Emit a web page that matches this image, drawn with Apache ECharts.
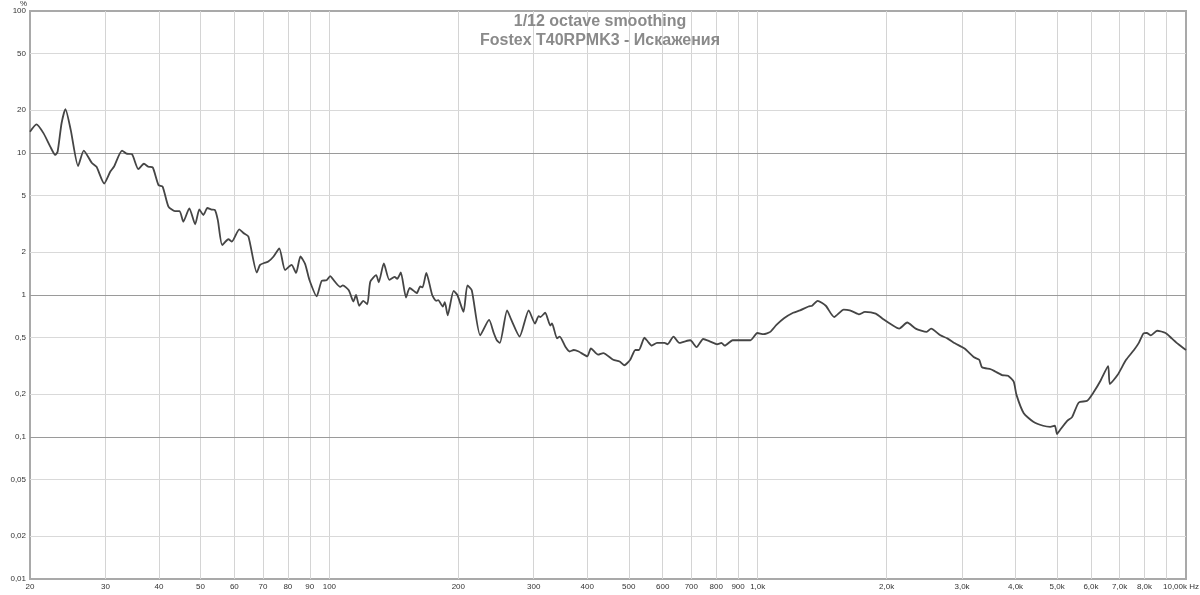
<!DOCTYPE html>
<html>
<head>
<meta charset="utf-8">
<script src="https://cdn.jsdelivr.net/npm/echarts@6/dist/echarts.min.js"></script>
<style>
    html, body { margin: 0; padding: 0; background: #fff; }
    #chart { width: 1200px; height: 595px; }
</style>
</head>
<body>
<div id="chart"></div>
<script>
    // частота, Гц
    const freqHz = [
        20, 20.7, 21.5, 22.3, 22.9, 23.2, 23.7, 24.2, 24.9, 25.9, 26.7, 27.9, 28.6, 29.8, 30.8, 31.4,
        32.8, 33.6, 34.6, 35.8, 36.9, 37.8, 38.7, 39.9, 40.8, 42.1, 43.6, 44.7, 45.6, 47.1, 48.6, 49.7,
        50.8, 51.9, 53.1, 54.0, 54.9, 56.2, 58.1, 59.2, 61.6, 63.0, 64.7, 67.7, 68.9, 70.8, 72, 74,
        76.4, 78.8, 81.6, 83.6, 85.6, 87.8, 89.8, 93.4, 96, 98.5, 100.4, 103, 106, 107.5, 111, 113.8,
        115.4, 117.4, 120, 122.6, 124.6, 128.6, 130.4, 134, 138, 142, 144, 146.8, 151, 154, 158.6, 160,
        163, 165, 168.4, 173.8, 177.6, 179.5, 184, 186, 188.9, 195, 199, 205.7, 210, 215, 225, 236,
        242, 246, 250, 260, 266, 278, 292, 302, 308, 311, 319, 328, 331, 340, 345, 356,
        364, 372, 382, 400, 408, 424, 436, 460, 476, 488, 504, 518, 528, 544, 554, 566,
        582, 606, 616, 636, 656, 674, 696, 720, 746, 775, 804, 823, 838, 874, 900, 962,
        998, 1032, 1070, 1106, 1152, 1210, 1256, 1314, 1340, 1380, 1442, 1508, 1588, 1640, 1706, 1722,
        1780, 1886, 1966, 2052, 2140, 2234, 2338, 2480, 2540, 2670, 2772, 2888, 3040, 3200, 3290, 3340,
        3500, 3580, 3720, 3840, 3960, 4020, 4180, 4400, 4640, 4820, 4940, 5000, 5080, 5280, 5420, 5620,
        5880, 6100, 6320, 6580, 6640, 6920, 7240, 7560, 7760, 7960, 8100, 8280, 8560, 8960, 9260, 9600,
        10000
    ];
    // искажения, %
    const distortionPct = [
        14.1, 15.9, 13.8, 11.1, 9.7, 10.2, 16.2, 20.4, 14.5, 8.1, 10.4, 8.5, 8.0, 6.1, 7.4, 8.0,
        10.4, 9.9, 9.8, 7.7, 8.4, 8.0, 7.9, 5.95, 5.8, 4.19, 3.9, 3.9, 3.28, 4.08, 3.15, 4.0,
        3.66, 4.1, 4.0, 3.98, 3.37, 2.25, 2.47, 2.38, 2.9, 2.73, 2.58, 1.44, 1.63, 1.69, 1.72, 1.86,
        2.13, 1.5, 1.63, 1.43, 1.87, 1.65, 1.28, 0.98, 1.26, 1.27, 1.36, 1.24, 1.14, 1.17, 1.08, 0.9,
        1.0, 0.84, 0.91, 0.86, 1.24, 1.38, 1.23, 1.67, 1.28, 1.34, 1.3, 1.44, 0.96, 1.12, 1.05, 1.03,
        1.15, 1.13, 1.43, 1.0, 0.91, 0.92, 0.83, 0.89, 0.72, 1.07, 1.0, 0.76, 1.17, 1.08, 0.52, 0.667,
        0.54, 0.48, 0.46, 0.78, 0.667, 0.51, 0.78, 0.63, 0.71, 0.70, 0.75, 0.61, 0.63, 0.495, 0.51, 0.43,
        0.4, 0.41, 0.4, 0.37, 0.42, 0.38, 0.39, 0.35, 0.34, 0.32, 0.35, 0.41, 0.41, 0.5, 0.47, 0.44,
        0.46, 0.46, 0.45, 0.51, 0.46, 0.47, 0.48, 0.43, 0.49, 0.47, 0.45, 0.46, 0.44, 0.48, 0.48, 0.48,
        0.54, 0.53, 0.55, 0.615, 0.686, 0.75, 0.78, 0.83, 0.84, 0.91, 0.84, 0.70, 0.79, 0.78, 0.74, 0.73,
        0.76, 0.74, 0.675, 0.62, 0.58, 0.64, 0.58, 0.55, 0.58, 0.52, 0.495, 0.457, 0.42, 0.364, 0.35, 0.31,
        0.30, 0.29, 0.273, 0.27, 0.245, 0.198, 0.147, 0.128, 0.12, 0.118, 0.12, 0.105, 0.112, 0.13, 0.138, 0.175,
        0.18, 0.209, 0.25, 0.316, 0.236, 0.273, 0.348, 0.41, 0.46, 0.537, 0.54, 0.52, 0.56, 0.54, 0.495, 0.45,
        0.41
    ];

    const xTicks = [20, 30, 40, 50, 60, 70, 80, 90, 100, 200, 300, 400, 500, 600, 700, 800, 900,
        1000, 2000, 3000, 4000, 5000, 6000, 7000, 8000, 9000, 10000];
    const xTickLabels = ['20', '30', '40', '50', '60', '70', '80', '90', '100', '200', '300', '400', '500',
        '600', '700', '800', '900', '1,0k', '2,0k', '3,0k', '4,0k', '5,0k', '6,0k', '7,0k', '8,0k', '', '10,00k Hz'];
    const yTicks = [100, 50, 20, 10, 5, 2, 1, 0.5, 0.2, 0.1, 0.05, 0.02, 0.01];
    const yTickLabels = ['100', '50', '20', '10', '5', '2', '1', '0,5', '0,2', '0,1', '0,05', '0,02', '0,01'];
    const yDecades = [10, 1, 0.1];

    const font = 'Arial, "Liberation Sans", sans-serif';
    const borderColor = '#a9a9a9';
    const hidden = 'rgba(0,0,0,0)';

    // сетка и подписи делений через markLine
    const gridLines = [];
    xTicks.forEach(function (v, i) {
        const edge = (v === 20 || v === 10000);
        const item = {
            xAxis: v,
            lineStyle: { color: edge ? hidden : '#d4d4d4', width: 1, type: 'solid' },
            label: { show: xTickLabels[i] !== '', formatter: xTickLabels[i], position: 'start', distance: 4 }
        };
        if (v === 10000) {
            item.label.align = 'right';
            item.label.offset = [13, 0];
        }
        gridLines.push(item);
    });
    yTicks.forEach(function (v, i) {
        const edge = (v === 100 || v === 0.01);
        const major = yDecades.indexOf(v) >= 0;
        gridLines.push({
            yAxis: v,
            lineStyle: { color: edge ? hidden : (major ? '#9a9a9a' : '#d9d9d9'), width: 1, type: 'solid' },
            label: { formatter: yTickLabels[i], position: 'start', distance: 4 }
        });
    });

    const seriesData = freqHz.map(function (f, i) { return [f, distortionPct[i]]; });

    const myChart = echarts.init(document.getElementById('chart'), null, { renderer: 'canvas' });
    myChart.setOption({
        animation: false,
        backgroundColor: '#fff',
        title: {
            text: '1/12 octave smoothing\nFostex T40RPMK3 - Искажения',
            left: 'center',
            top: 7,
            textStyle: {
                fontFamily: font,
                fontSize: 16,
                fontWeight: 'bold',
                color: '#8a8a8a',
                lineHeight: 19,
                align: 'center'
            }
        },
        graphic: [{
            type: 'text',
            left: 20,
            top: 0,
            style: { text: '%', fontSize: 8, fontFamily: font, fill: '#333' }
        }],
        grid: {
            left: 30,
            right: 14,
            top: 11,
            bottom: 16,
            show: true,
            borderColor: borderColor,
            borderWidth: 2
        },
        xAxis: {
            type: 'log',
            logBase: 10,
            min: 20,
            max: 10000,
            axisLine: { show: false },
            axisTick: { show: false },
            axisLabel: { show: false },
            splitLine: { show: false }
        },
        yAxis: {
            type: 'log',
            logBase: 10,
            min: 0.01,
            max: 100,
            axisLine: { show: false },
            axisTick: { show: false },
            axisLabel: { show: false },
            splitLine: { show: false }
        },
        series: [{
            name: 'Искажения',
            type: 'line',
            z: 3,
            data: seriesData,
            showSymbol: false,
            symbol: 'none',
            smooth: 0.2,
            lineStyle: { color: '#454545', width: 1.8, join: 'round' },
            markLine: {
                silent: true,
                z: 1,
                symbol: 'none',
                animation: false,
                label: { fontFamily: font, fontSize: 8, color: '#333' },
                emphasis: { disabled: true },
                data: gridLines
            }
        }]
    });
</script>
</body>
</html>
